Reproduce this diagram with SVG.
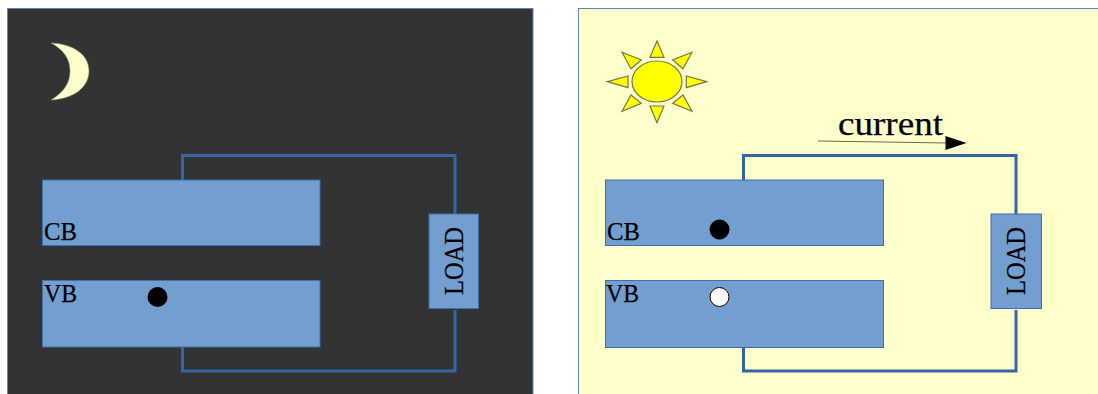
<svg xmlns="http://www.w3.org/2000/svg" width="1098" height="394" viewBox="0 0 1098 394">
<style>
.panel{stroke:#5b86c0;stroke-width:1}
.band{fill:#729fcf;stroke:#3f6fab;stroke-width:1}
.wire{fill:none;stroke:#3465a4;stroke-width:3}
.ray{fill:#ffff00;stroke:#77774a;stroke-width:1.2}
text{font-family:"Liberation Serif","Times New Roman",serif;fill:#000;stroke:#000;stroke-width:.25px}
.lbl{font-size:25px}
.load{font-size:27px}
</style>
<rect width="1098" height="394" fill="#ffffff"/>
<g id="night-panel">
<rect class="panel" x="7.5" y="8.5" width="525.5" height="387" fill="#333333"/>
<path id="moon" d="M51 43C74 44 89 55 89 71C89 87 74 99 51 100C64 92 70 83 70 71C70 59 64 50 51 43Z" fill="#ffffcc" stroke="#8a8a70" stroke-width=".6"/>
</g>
<g id="day-panel">
<rect class="panel" x="578.5" y="8.5" width="521" height="387" fill="#ffffcc"/>
<g id="sun">
<ellipse cx="657" cy="81.5" rx="25" ry="20.5" fill="#ffff00" stroke="#77774a" stroke-width="1.2"/>
<polygon class="ray" points="657,41 650,57.3 664,57.3"/>
<polygon class="ray" points="657,122.7 650,106 664,106"/>
<polygon class="ray" points="607.5,81.7 628,76 628,87.7"/>
<polygon class="ray" points="706.5,81.7 686.3,76 686.3,87.7"/>
<polygon class="ray" points="622,52.3 641.3,60 631,68.7"/>
<polygon class="ray" points="692,52.3 672.7,60 683,68.7"/>
<polygon class="ray" points="622,111.3 631,95 641.3,103.3"/>
<polygon class="ray" points="692,111.3 683,95 672.7,103.3"/>
</g>
</g>
<g id="connectors">
<path class="wire" d="M182.5 180V155.5H455V214"/>
<path class="wire" d="M182.5 347V371H455V310"/>
<path class="wire" d="M743.5 180V155.5H1016V214"/>
<path class="wire" d="M743.5 347V371H1016V310"/>
<path d="M818 141L948 143" fill="none" stroke="#6b6b50" stroke-width="1"/>
<polygon points="945.5,136 966.5,143 945.5,150" fill="#000"/>
</g>
<g id="night-cb"><rect class="band" x="42.5" y="180" width="277.5" height="65.5"/><text class="lbl" x="44" y="239.5" textLength="33" lengthAdjust="spacingAndGlyphs">CB</text></g>
<g id="night-vb"><rect class="band" x="42.5" y="280.5" width="277.5" height="66.5"/><text class="lbl" x="44" y="302" textLength="33" lengthAdjust="spacingAndGlyphs">VB</text><circle cx="157.5" cy="297" r="10" fill="#000"/></g>
<g id="night-load"><rect class="band" x="429" y="214" width="49.5" height="94.5"/><text class="load" transform="translate(462.7 295) rotate(-90)" textLength="68" lengthAdjust="spacingAndGlyphs">LOAD</text></g>
<g id="day-cb"><rect class="band" x="605.5" y="180" width="278" height="65.5"/><text class="lbl" x="607" y="239.5" textLength="33" lengthAdjust="spacingAndGlyphs">CB</text><circle cx="719.5" cy="229.5" r="10" fill="#000"/></g>
<g id="day-vb"><rect class="band" x="605.5" y="280.5" width="278" height="67"/><text class="lbl" x="606" y="302" textLength="33" lengthAdjust="spacingAndGlyphs">VB</text><circle cx="719.5" cy="297" r="9.5" fill="#fff" stroke="#000" stroke-width="1"/></g>
<g id="day-load"><rect class="band" x="991" y="214" width="50.5" height="94.5"/><text class="load" transform="translate(1025 295) rotate(-90)" textLength="68" lengthAdjust="spacingAndGlyphs">LOAD</text></g>
<g id="current-label"><text x="838" y="135" font-size="33" textLength="105" lengthAdjust="spacingAndGlyphs">current</text></g>
</svg>
